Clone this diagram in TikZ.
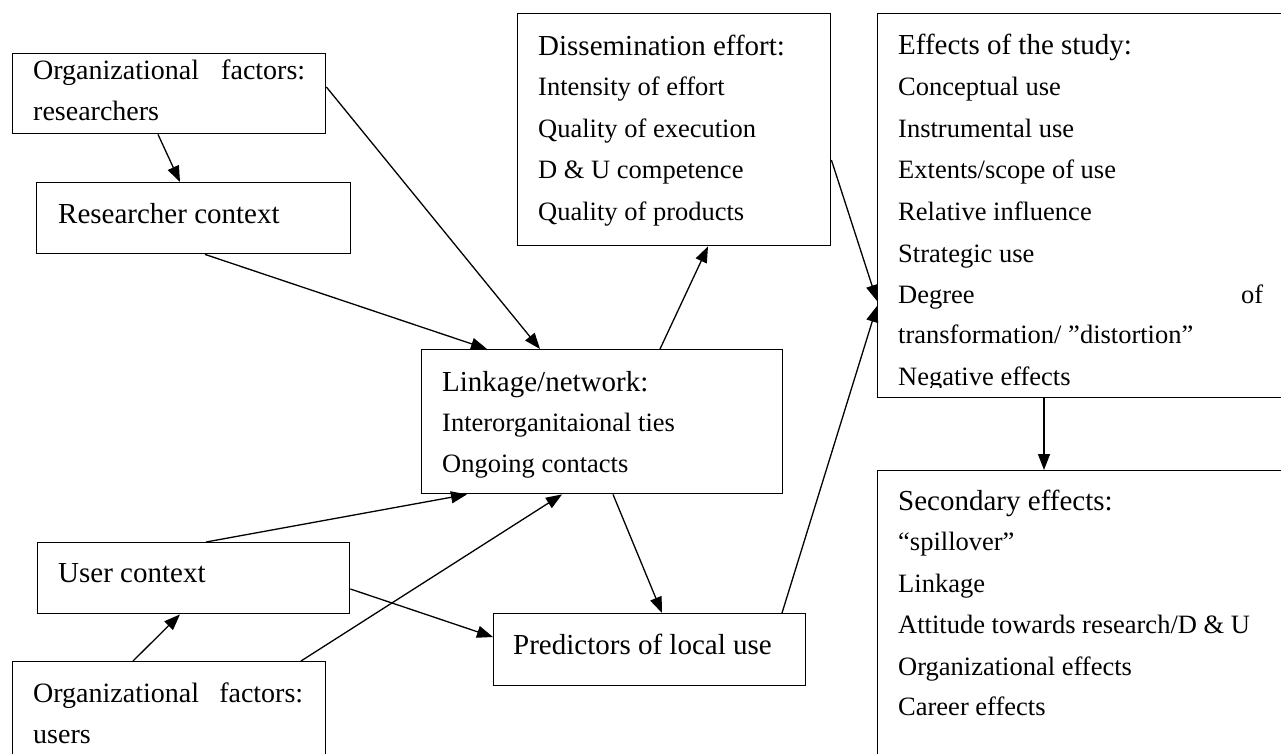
\documentclass[tikz,border=0pt]{standalone}
\usepackage{fontspec}
\setmainfont{Liberation Serif}
\usetikzlibrary{arrows.meta}
\tikzset{
  box/.style={draw, line width=1.4pt, rectangle, inner sep=0pt, anchor=north west},
  hd/.style={anchor=base west, inner sep=0pt, font=\fontsize{29}{34}\selectfont},
  hdo/.style={anchor=base west, inner sep=0pt, font=\fontsize{28}{33}\selectfont},
  it/.style={anchor=base west, inner sep=0pt, font=\fontsize{26.5}{32}\selectfont},
  arr/.style={-{Triangle[length=16pt,width=12pt]}, line width=1.3pt}
}
\begin{document}
\begin{tikzpicture}[x=1pt,y=-1pt]
\useasboundingbox (0,0) rectangle (1281,753);
\clip (0,0) rectangle (1281,753);
\fill[white] (0,0) rectangle (1281,753);

% boxes
\node[box, minimum width=313pt, minimum height=80pt] (orgR) at (12,53) {};
\node[box, minimum width=314pt, minimum height=71pt] (resC) at (36,182) {};
\node[box, minimum width=313pt, minimum height=232pt] (diss) at (517,13) {};
\node[box, minimum width=420pt, minimum height=384pt] (eff) at (877,13) {};
\node[box, minimum width=361pt, minimum height=144pt] (link) at (421,349) {};
\node[box, minimum width=312pt, minimum height=71pt] (userC) at (37,542) {};
\node[box, minimum width=312pt, minimum height=72pt] (pred) at (493,613) {};
\node[box, minimum width=313pt, minimum height=120pt] (orgU) at (12,661) {};
\node[box, minimum width=420pt, minimum height=300pt] (sec) at (877,470) {};

% texts
\node[hdo] (orgR1) at (33,79) {\makebox[272pt][s]{Organizational factors:}};
\node[hdo] (orgR2) at (33,120) {researchers};
\node[hd] (resC1) at (58,223) {Researcher context};

\node[hd] (diss0) at (538,55) {Dissemination effort:};
\node[it] (diss1) at (538,95) {Intensity of effort};
\node[it] (diss2) at (538,137) {Quality of execution};
\node[it] (diss3) at (538,178) {D \& U competence};
\node[it] (diss4) at (538,220) {Quality of products};

\begin{scope}
\clip (877,13) rectangle (1281,387);
\node[hd] (eff0) at (898,54) {Effects of the study:};
\node[it] (eff1) at (898,95) {Conceptual use};
\node[it] (eff2) at (898,137) {Instrumental use};
\node[it] (eff3) at (898,178) {Extents/scope of use};
\node[it] (eff4) at (898,220) {Relative influence};
\node[it] (eff5) at (898,262) {Strategic use};
\node[it] (eff6) at (898,303) {\makebox[365pt][s]{Degree of}};
\node[it] (eff7) at (898,343) {transformation/ ”distortion”};
\node[it] (eff8) at (898,385) {Negative effects};
\end{scope}

\node[hd] (link0) at (442,391) {Linkage/network:};
\node[it] (link1) at (442,431) {Interorganitaional ties};
\node[it] (link2) at (442,472) {Ongoing contacts};

\node[hd] (userC1) at (58,582) {User context};
\node[hd] (pred1) at (513,654) {Predictors of local use};
\node[hdo] (orgU1) at (33,702) {\makebox[270pt][s]{Organizational factors:}};
\node[hdo] (orgU2) at (33,743) {users};

\node[hd] (sec0) at (898,510) {Secondary effects:};
\node[it] (sec1) at (898,550) {“spillover”};
\node[it] (sec2) at (898,592) {Linkage};
\node[it] (sec3) at (898,633) {Attitude towards research/D \& U};
\node[it] (sec4) at (898,675) {Organizational effects};
\node[it] (sec5) at (898,715) {Career effects};

% connectors
\draw[arr] ([xshift=146pt]orgR.south west) -- ([xshift=144pt]resC.north west);
\draw[arr] ([yshift=-34pt]orgR.north east) -- ([xshift=119pt]link.north west);
\draw[arr] ([xshift=169pt]resC.south west) -- ([xshift=66pt]link.north west);
\draw[arr] ([xshift=239pt]link.north west) -- ([xshift=191pt]diss.south west);
\draw[arr] ([yshift=-147pt]diss.north east) -- ([yshift=-288pt]eff.north west);
\draw[arr] ([xshift=289pt]pred.north west) -- ([yshift=-293pt]eff.north west);
\draw[arr] ([xshift=192pt]link.south west) -- ([xshift=169pt]pred.north west);
\draw[arr] ([xshift=169pt]userC.north west) -- ([xshift=46pt]link.south west);
\draw[arr] ([xshift=289pt]orgU.north west) -- ([xshift=141pt]link.south west);
\draw[arr] ([xshift=121pt]orgU.north west) -- ([xshift=143pt]userC.south west);
\draw[arr] ([yshift=-47pt]userC.north east) -- ([yshift=-24pt]pred.north west);
\draw[arr] ([xshift=167pt]eff.south west) -- ([xshift=167pt]sec.north west);
\end{tikzpicture}
\end{document}
